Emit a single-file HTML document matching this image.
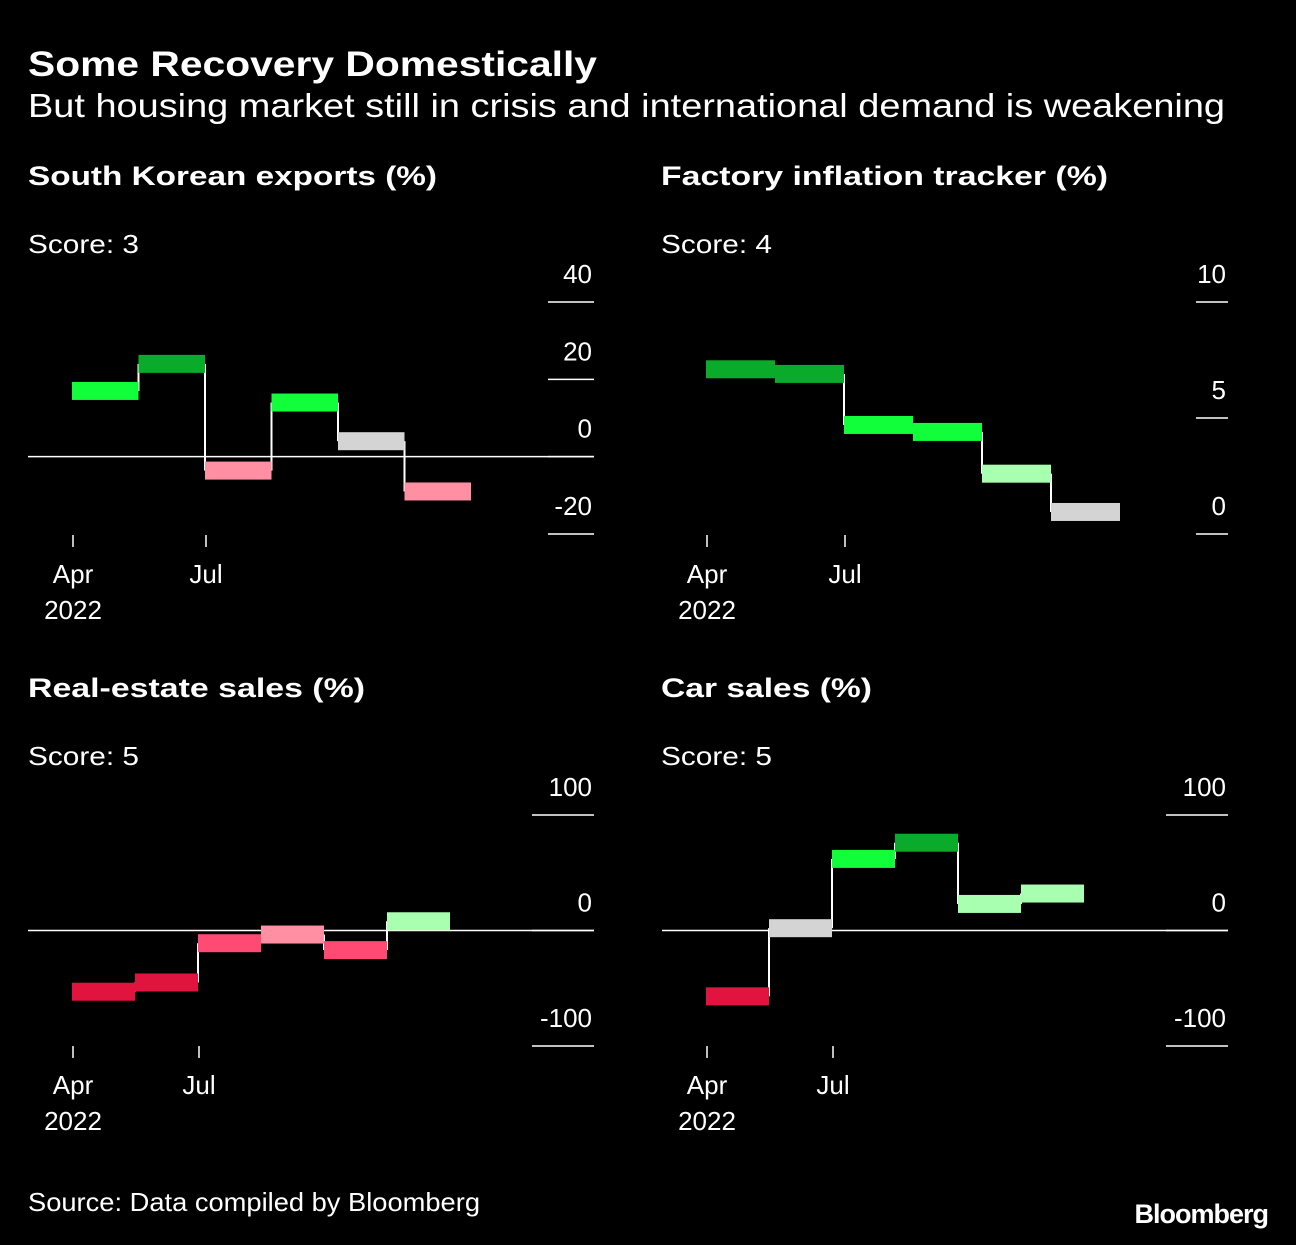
<!DOCTYPE html>
<html><head><meta charset="utf-8"><style>
body{margin:0;background:#000;width:1296px;height:1240px;overflow:hidden;font-family:"Liberation Sans",sans-serif;color:#fff}
svg text{font-family:"Liberation Sans",sans-serif;fill:#fff}
</style></head><body>
<svg id="s" width="1296" height="1240">
<text x="28" y="76" font-size="35" font-weight="bold" textLength="569" lengthAdjust="spacingAndGlyphs">Some Recovery Domestically</text>
<text x="28" y="117" font-size="33" textLength="1197" lengthAdjust="spacingAndGlyphs">But housing market still in crisis and international demand is weakening</text>
<text x="28" y="1211" font-size="26" fill="#ddd" textLength="452" lengthAdjust="spacingAndGlyphs">Source: Data compiled by Bloomberg</text>
<text x="1268" y="1223" font-size="27" font-weight="bold" text-anchor="end" letter-spacing="-1">Bloomberg</text>
</svg>
<script>
const months=["Apr","May","Jun","Jul","Aug","Sep"];
const exportsVals=[17,24,-3.6,14,4,-9];
const inflationVals=[7.1,6.9,4.7,4.4,2.6,0.95];
const realEstateVals=[-53,-45,-11,-3.5,-17,8];
const carVals=[-57,2,62,76,23,32];
const exportsTicks=[40,20,0,-20];
const inflationTicks=[10,5,0];
const hundredTicks=[100,0,-100];
const G1="#0aaa2a",G2="#11ff3a",G3="#a8ffb0",GR="#d4d4d4",P1="#ff8fa3",P2="#ff4a74",P3="#e0143f";
const exportsColors=[G2,G1,P1,G2,GR,P1];
const inflationColors=[G1,G1,G2,G2,G3,GR];
const realEstateColors=[P3,P3,P2,P1,P2,G3];
const carColors=[P3,GR,G2,G1,G3,G3];
const svg=document.getElementById('s');
const NS="http://www.w3.org/2000/svg";
function mk(t,a){const e=document.createElementNS(NS,t);for(const k in a)e.setAttribute(k,a[k]);svg.appendChild(e);return e;}
function panel(p){
  const y=v=>p.y0-(v-p.vmin)*(p.y0-p.y1)/(p.vmax-p.vmin);
  const x=i=>p.x0+i*p.mw;
  let t=mk('text',{x:p.px,y:p.py,'font-size':27,'font-weight':'bold',textLength:p.tl,lengthAdjust:'spacingAndGlyphs'});t.textContent=p.title;
  
  
  t=mk('text',{x:p.px,y:p.py+68,'font-size':26,textLength:111,lengthAdjust:'spacingAndGlyphs'});t.textContent=p.score;
  
  
  p.ticks.forEach(v=>{
    let l=mk('line',{x1:p.tx,x2:594+p.dx,y1:y(v),y2:y(v),stroke:'#fff','stroke-width':1.5});
    
    
    let tt=mk('text',{x:594+p.dx-2,y:y(v)-19,'font-size':26,'text-anchor':'end',fill:'#ddd'});tt.textContent=v;
    
    
  });
  if(p.zero){let z=mk('line',{x1:28+p.dx,x2:594+p.dx,y1:y(0),y2:y(0),stroke:'#fff','stroke-width':1.5});
    
    }
  p.vals.forEach((v,i)=>{
    if(i>0){let c=mk('line',{x1:x(i),x2:x(i),y1:y(p.vals[i-1]),y2:y(v),stroke:'#fff','stroke-width':2});
      
      }
  });
  p.vals.forEach((v,i)=>{
    let r=mk('rect',{x:x(i),y:y(v)-9,width:p.mw,height:18,fill:p.colors[i]});
    
    
  });
  [[0,"Apr","2022"],[2,"Jul",""]].forEach(([i,m,yr])=>{
    let l=mk('line',{x1:x(i)+1,x2:x(i)+1,y1:p.axY,y2:p.axY+12,stroke:'#fff','stroke-width':1.5});
    
    
    let tt=mk('text',{x:x(i)+1,y:p.axY+48,'font-size':26,'text-anchor':'middle',fill:'#ddd'});tt.textContent=m;
    
    
    if(yr){let y2=mk('text',{x:x(i)+1,y:p.axY+84,'font-size':26,'text-anchor':'middle',fill:'#ddd'});y2.textContent=yr;
      
      }
  });
}
panel({title:"South Korean exports (%)",tl:409,score:"Score: 3",px:28,py:185,dx:0,x0:72,mw:66.5,vals:exportsVals,colors:exportsColors,ticks:exportsTicks,vmin:-20,vmax:40,y0:534,y1:302,tx:548,zero:true,axY:535});
panel({title:"Factory inflation tracker (%)",tl:447,score:"Score: 4",px:661,py:185,dx:634,x0:706,mw:69,vals:inflationVals,colors:inflationColors,ticks:inflationTicks,vmin:0,vmax:10,y0:534,y1:302,tx:1196,zero:false,axY:535});
panel({title:"Real-estate sales (%)",tl:337,score:"Score: 5",px:28,py:697,dx:0,x0:72,mw:63,vals:realEstateVals,colors:realEstateColors,ticks:hundredTicks,vmin:-100,vmax:100,y0:1046,y1:815,tx:532,zero:true,axY:1046});
panel({title:"Car sales (%)",tl:211,score:"Score: 5",px:661,py:697,dx:634,x0:706,mw:63,vals:carVals,colors:carColors,ticks:hundredTicks,vmin:-100,vmax:100,y0:1046,y1:815,tx:1166,zero:true,axY:1046});
</script>
</body></html>
